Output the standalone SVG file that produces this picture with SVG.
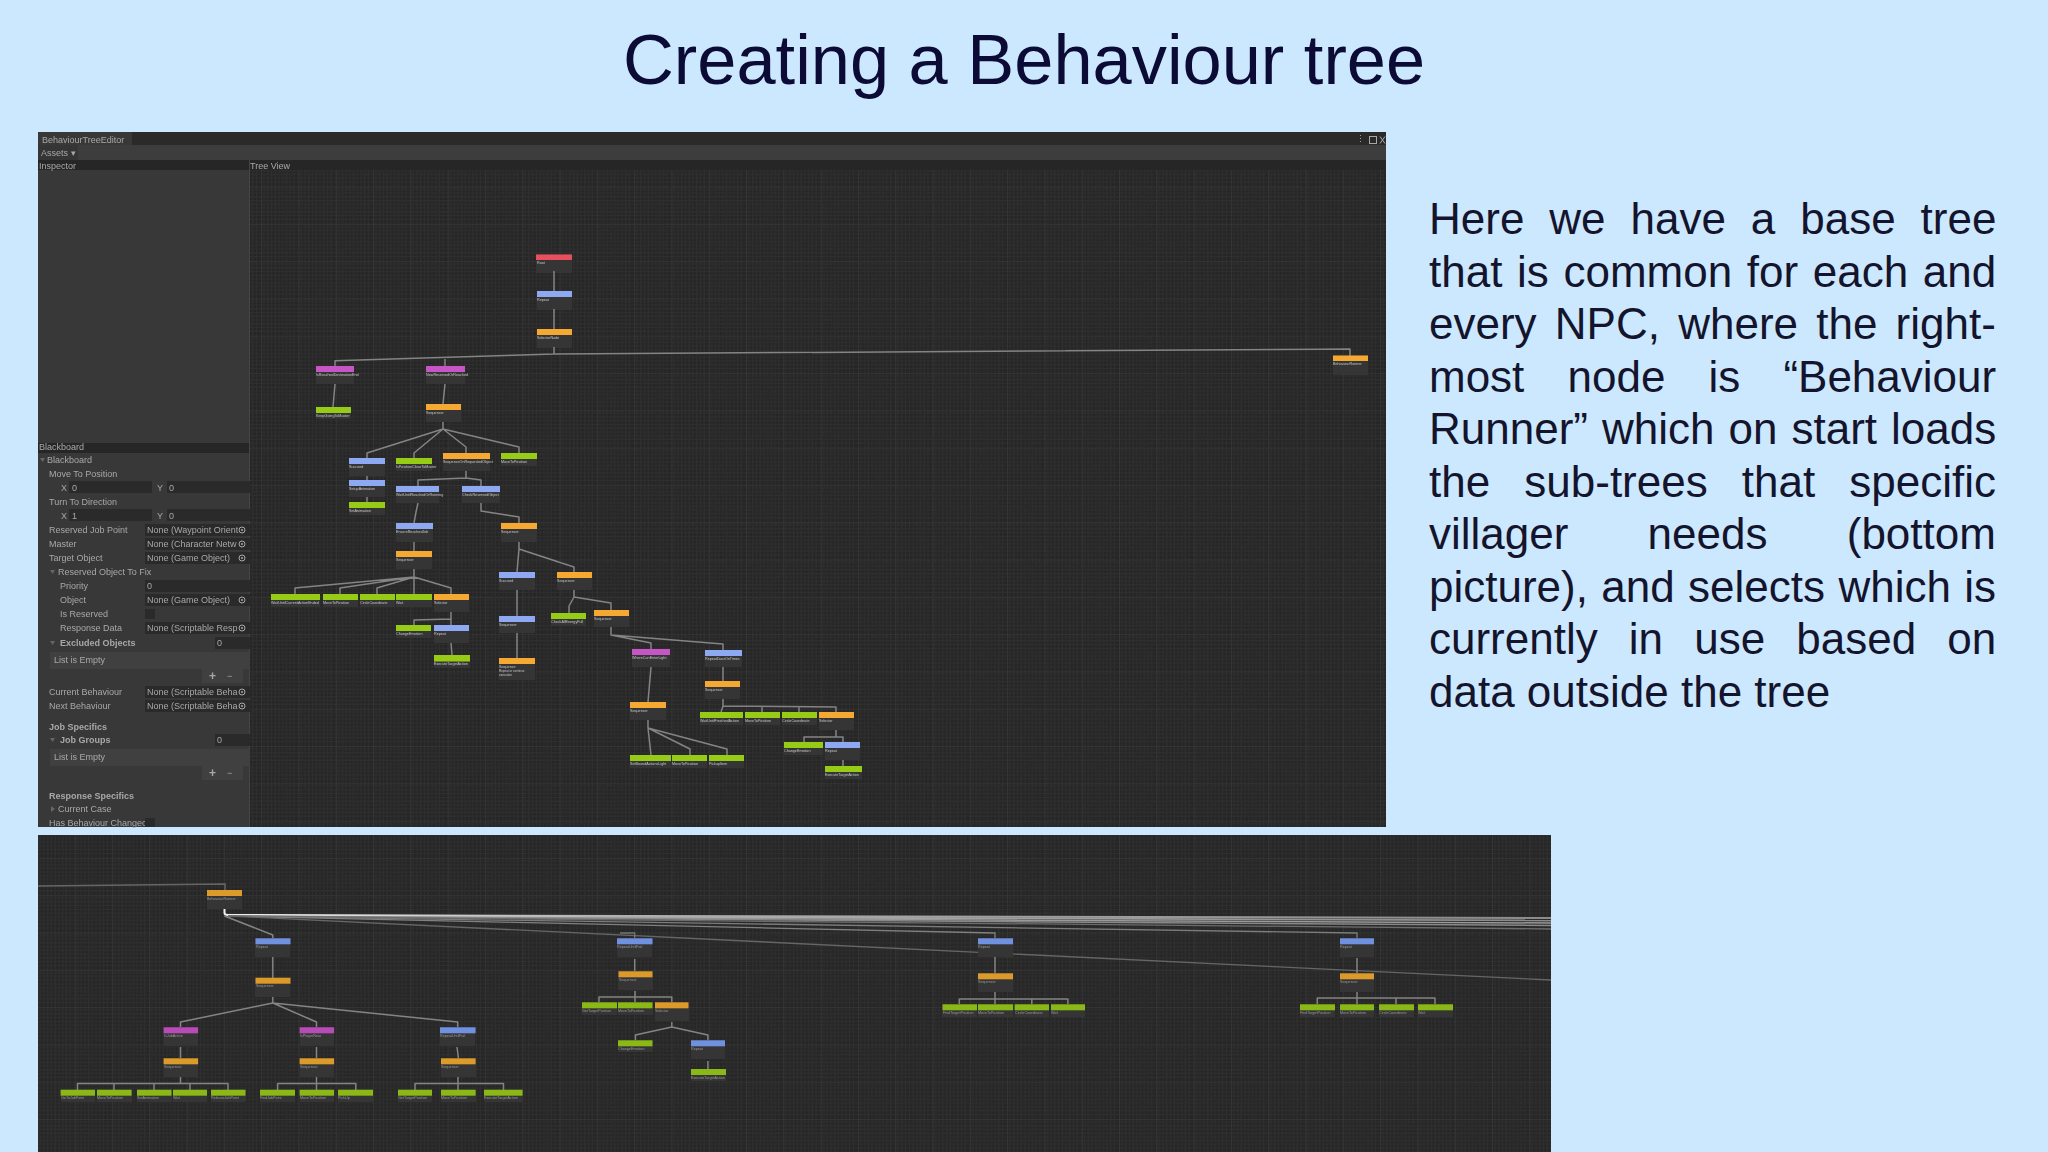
<svg xmlns="http://www.w3.org/2000/svg" width="2048" height="1152" viewBox="0 0 2048 1152">
<style>
.title{font:70.4px "Liberation Sans",Arial,sans-serif;fill:#0b0b35}
.body{font:44px "Liberation Sans",Arial,sans-serif;fill:#14142c}
.ui{font:9px "Liberation Sans",Arial,sans-serif;fill:#a8a8a8}
.uib{font:bold 9px "Liberation Sans",Arial,sans-serif;fill:#a8a8a8}
.lb{font:3.7px "Liberation Sans",Arial,sans-serif;fill:#c8c8c8}
.lb2{font:3.7px "Liberation Sans",Arial,sans-serif;fill:#9a9a9a}
.card{fill:#343434}
.o{fill:#f5a832}.b{fill:#8ea9f2}.p{fill:#c654c6}.g{fill:#97cc12}.r{fill:#e8505c}
.o2{fill:#dc9a2a}.b2{fill:#7090e0}.p2{fill:#b84cb8}.g2{fill:#8ab818}
.c{fill:none;stroke:#848484;stroke-width:1.500;stroke-linejoin:round}
.f{fill:#2a2a2a}
.ic{fill:none;stroke:#a8a8a8;stroke-width:1}
</style>
<defs>
<pattern id="gr" width="37.3" height="37.3" patternUnits="userSpaceOnUse">
<rect width="37.3" height="37.3" fill="#272727"/>
<path d="M3 0V37.3M6.700 0V37.3M10.400 0V37.3M14.200 0V37.3M17.900 0V37.3M21.600 0V37.3M25.300 0V37.3M29 0V37.3M32.800 0V37.3M0 3H37.3M0 6.700H37.3M0 10.400H37.3M0 14.200H37.3M0 17.900H37.3M0 21.600H37.3M0 25.300H37.3M0 29H37.3M0 32.800H37.3" stroke="#2f2f2f" stroke-width="1" fill="none"/>
<path d="M0 0V37.3M0 0H37.3" stroke="#3c3c3c" stroke-width="1.200" fill="none"/>
</pattern>
<filter id="sf" x="0" y="0" width="1" height="1"><feGaussianBlur stdDeviation="0.4"/></filter>
<linearGradient id="fd" x1="0" x2="1" y1="0" y2="0"><stop offset="0" stop-color="#f0f0f0"/><stop offset=".3" stop-color="#b0b0b0"/><stop offset="1" stop-color="#8a8a8a"/></linearGradient>
<g id="tgt"><circle class="ic" r="3"/><circle r="1" fill="#a8a8a8"/></g>
</defs>
<rect width="2048" height="1152" fill="#cce8ff"/>
<text class="title" x="623" y="84">Creating a Behaviour tree</text>
<g id="body-text">
<text class="body" x="1429" y="234" word-spacing="12.7">Here we have a base tree</text>
<text class="body" x="1429" y="286.500" word-spacing="2.4">that is common for each and</text>
<text class="body" x="1429" y="339" word-spacing="6">every NPC, where the right-</text>
<text class="body" x="1429" y="391.500" word-spacing="30.9">most node is “Behaviour</text>
<text class="body" x="1429" y="444" word-spacing="1.8">Runner” which on start loads</text>
<text class="body" x="1429" y="496.500" word-spacing="21.9">the sub-trees that specific</text>
<text class="body" x="1429" y="549" word-spacing="67">villager needs (bottom</text>
<text class="body" x="1429" y="601.500" word-spacing="1.15">picture), and selects which is</text>
<text class="body" x="1429" y="654" word-spacing="18.9">currently in use based on</text>
<text class="body" x="1429" y="706.500">data outside the tree</text>
</g>

<g id="editor-window" filter="url(#sf)">
<rect x="38" y="132" width="1348" height="695" fill="#2c2c2c"/>
<rect x="38" y="132" width="94" height="13" fill="#393939"/>
<rect x="38" y="145" width="1348" height="15" fill="#3c3c3c"/>
<rect x="38" y="145" width="40" height="15" fill="#353535"/>
<rect x="38" y="160" width="1348" height="10" fill="#272727"/>
<rect x="250" y="170" width="1136" height="657" fill="url(#gr)"/>
<rect x="38" y="170" width="212" height="657" fill="#383838"/>
<rect x="38" y="443" width="211" height="10" fill="#282828"/>
<rect x="249" y="160" width="1" height="667" fill="#444"/>
<text class="ui" x="42" y="143">BehaviourTreeEditor</text>
<text class="ui" x="41" y="156">Assets ▾</text>
<text class="ui" x="39" y="169">Inspector</text>
<text class="ui" x="250" y="169">Tree View</text>
<text class="ui" x="1356" y="142" font-weight="bold">⋮</text>
<rect x="1369.500" y="136.500" width="7" height="7" class="ic"/>
<path d="M1380 136.500l5 7M1385 136.500l-5 7" class="ic"/>

<g id="inspector">
<text class="ui" x="39" y="450">Blackboard</text>
<text class="ui" x="47" y="463">Blackboard</text>
<path d="M40 458h5l-2.500 4z" fill="#666"/>
<text class="ui" x="49" y="477">Move To Position</text>
<text class="ui" x="61" y="491">X</text><rect class="f" x="69" y="481" width="83" height="12"/><text class="ui" x="72" y="491">0</text>
<text class="ui" x="157" y="491">Y</text><rect class="f" x="167" y="481" width="83" height="12"/><text class="ui" x="169" y="491">0</text>
<text class="ui" x="49" y="505">Turn To Direction</text>
<text class="ui" x="61" y="519">X</text><rect class="f" x="69" y="509" width="83" height="12"/><text class="ui" x="72" y="519">1</text>
<text class="ui" x="157" y="519">Y</text><rect class="f" x="167" y="509" width="83" height="12"/><text class="ui" x="169" y="519">0</text>
<text class="ui" x="49" y="533">Reserved Job Point</text><rect class="f" x="145" y="524" width="105" height="12"/><text class="ui" x="147" y="533">None (Waypoint Orient</text><use href="#tgt" x="242" y="530"/>
<text class="ui" x="49" y="547">Master</text><rect class="f" x="145" y="538" width="105" height="12"/><text class="ui" x="147" y="547">None (Character Netw</text><use href="#tgt" x="242" y="544"/>
<text class="ui" x="49" y="561">Target Object</text><rect class="f" x="145" y="552" width="105" height="12"/><text class="ui" x="147" y="561">None (Game Object)</text><use href="#tgt" x="242" y="558"/>
<path d="M50 570h5l-2.500 4z" fill="#666"/><text class="ui" x="58" y="575">Reserved Object To Fix</text>
<text class="ui" x="60" y="589">Priority</text><rect class="f" x="145" y="580" width="105" height="12"/><text class="ui" x="147" y="589">0</text>
<text class="ui" x="60" y="603">Object</text><rect class="f" x="145" y="594" width="105" height="12"/><text class="ui" x="147" y="603">None (Game Object)</text><use href="#tgt" x="242" y="600"/>
<text class="ui" x="60" y="617">Is Reserved</text><rect class="f" x="145" y="609" width="10" height="10"/>
<text class="ui" x="60" y="631">Response Data</text><rect class="f" x="145" y="622" width="105" height="12"/><text class="ui" x="147" y="631">None (Scriptable Resp</text><use href="#tgt" x="242" y="628"/>
<path d="M50 641h5l-2.500 4z" fill="#666"/><text class="uib" x="60" y="646">Excluded Objects</text><rect class="f" x="215" y="637" width="35" height="12"/><text class="ui" x="217" y="646">0</text>
<rect x="50" y="652" width="200" height="17" fill="#414141"/><text class="ui" x="54" y="663">List is Empty</text>
<rect x="202" y="669" width="41" height="14" fill="#414141"/><text class="uib" x="209" y="680" style="font-size:12px">+</text><text class="ui" x="227" y="679" fill="#666">−</text>
<text class="ui" x="49" y="695">Current Behaviour</text><rect class="f" x="145" y="686" width="105" height="12"/><text class="ui" x="147" y="695">None (Scriptable Beha</text><use href="#tgt" x="242" y="692"/>
<text class="ui" x="49" y="709">Next Behaviour</text><rect class="f" x="145" y="700" width="105" height="12"/><text class="ui" x="147" y="709">None (Scriptable Beha</text><use href="#tgt" x="242" y="706"/>
<text class="uib" x="49" y="730">Job Specifics</text>
<path d="M50 738h5l-2.500 4z" fill="#666"/><text class="uib" x="60" y="743">Job Groups</text><rect class="f" x="215" y="734" width="35" height="12"/><text class="ui" x="217" y="743">0</text>
<rect x="50" y="749" width="200" height="17" fill="#414141"/><text class="ui" x="54" y="760">List is Empty</text>
<rect x="202" y="766" width="41" height="14" fill="#414141"/><text class="uib" x="209" y="777" style="font-size:12px">+</text><text class="ui" x="227" y="776" fill="#666">−</text>
<text class="uib" x="49" y="799">Response Specifics</text>
<path d="M51 806l4 3-4 3z" fill="#666"/><text class="ui" x="58" y="812">Current Case</text>
<text class="ui" x="49" y="826">Has Behaviour Changec</text><rect class="f" x="145" y="818" width="10" height="9"/>
</g>

<g id="tree-cards">
<rect class="card" x="536" y="254" width="36" height="19"/><rect class="card" x="537" y="291" width="35" height="19"/><rect class="card" x="537" y="329" width="35" height="19"/>
<rect class="card" x="316" y="366" width="38" height="18"/><rect class="card" x="426" y="366" width="39" height="18"/><rect class="card" x="316" y="407" width="35" height="12"/><rect class="card" x="426" y="404" width="35" height="18"/>
<rect class="card" x="349" y="458" width="36" height="18"/><rect class="card" x="396" y="458" width="36" height="13"/><rect class="card" x="443" y="453" width="47" height="18"/><rect class="card" x="501" y="453" width="36" height="13"/>
<rect class="card" x="349" y="480" width="36" height="17"/><rect class="card" x="349" y="502" width="36" height="13"/><rect class="card" x="396" y="486" width="43" height="17"/><rect class="card" x="462" y="486" width="38" height="17"/>
<rect class="card" x="396" y="523" width="37" height="19"/><rect class="card" x="501" y="523" width="36" height="19"/><rect class="card" x="396" y="551" width="36" height="18"/>
<rect class="card" x="271" y="594" width="49" height="13"/><rect class="card" x="323" y="594" width="35" height="13"/><rect class="card" x="360" y="594" width="35" height="13"/><rect class="card" x="396" y="594" width="36" height="13"/><rect class="card" x="434" y="594" width="35" height="18"/>
<rect class="card" x="396" y="625" width="35" height="13"/><rect class="card" x="434" y="625" width="35" height="18"/><rect class="card" x="434" y="655" width="36" height="13"/>
<rect class="card" x="499" y="572" width="36" height="18"/><rect class="card" x="557" y="572" width="35" height="18"/><rect class="card" x="499" y="616" width="36" height="17"/><rect class="card" x="499" y="658" width="36" height="22"/>
<rect class="card" x="551" y="613" width="35" height="13"/><rect class="card" x="594" y="610" width="35" height="17"/><rect class="card" x="632" y="649" width="38" height="18"/><rect class="card" x="705" y="650" width="37" height="17"/><rect class="card" x="705" y="681" width="35" height="18"/><rect class="card" x="630" y="702" width="36" height="18"/>
<rect class="card" x="630" y="755" width="41" height="13"/><rect class="card" x="672" y="755" width="35" height="13"/><rect class="card" x="709" y="755" width="35" height="13"/>
<rect class="card" x="700" y="712" width="43" height="13"/><rect class="card" x="745" y="712" width="35" height="13"/><rect class="card" x="782" y="712" width="35" height="13"/><rect class="card" x="819" y="712" width="35" height="18"/>
<rect class="card" x="784" y="742" width="39" height="13"/><rect class="card" x="825" y="742" width="35" height="18"/><rect class="card" x="825" y="766" width="37" height="13"/><rect class="card" x="1333" y="355" width="35" height="20"/>
</g>

<g id="connectors-top">
<path class="c" d="M554 271V291M554 309V329M554 347V354L335 360.700V366M445 359V366M554 354L1350 349V356"/>
<path class="c" d="M335 384L333 407M445 384L443 404"/>
<path class="c" d="M443 422V429L367 453V458M443 429L414 453V458M443 429L466 447V453M443 429L519 447V453"/>
<path class="c" d="M367 476V480M367 497V502M466 471V478L418 480V486M466 478L481 480V486"/>
<path class="c" d="M418 503L416 512L414 523M481 503V511L519 517V523M414 542V551"/>
<path class="c" d="M414 569V577L295 588V594M414 577L340 588V594M414 577L377 588V594M414 577V594M414 577L451 588V594"/>
<path class="c" d="M451 612V619L414 620V625M451 619V625M451 643L452 655"/>
<path class="c" d="M519 542V549L517 572M519 549L574 567V572M517 590V616M517 633V658"/>
<path class="c" d="M574 590V597L569 606V613M574 597L611 603V610M611 627V635L651 643V649M611 635L723 644V650"/>
<path class="c" d="M651 667L648 702M723 667V681M723 699V706L721 712M723 706L836 707V712M762 707V712M799 707V712"/>
<path class="c" d="M648 720V728L651 755M648 728L690 749V755M648 728L727 749V755"/>
<path class="c" d="M836 730V737L804 737V742M836 737L843 737V742M843 760V766"/>
</g>

<g id="node-root"><rect class="r" x="536" y="254.500" width="36" height="5.500"/><text class="lb" x="537" y="264">Root</text></g>
<g id="node-repeat"><rect class="b" x="537" y="291" width="35" height="6"/><text class="lb" x="537" y="301">Repeat</text></g>
<g id="node-selector"><rect class="o" x="537" y="329" width="35" height="6"/><text class="lb" x="537" y="339">SelectorNode</text></g>
<g id="node-a1"><rect class="p" x="316" y="366" width="38" height="6"/><text class="lb" x="316" y="376">IsReachedDestinationEnd</text></g>
<g id="node-a2"><rect class="g" x="316" y="407" width="35" height="6"/><text class="lb" x="316" y="417">KeepGoingToMaster</text></g>
<g id="node-b1"><rect class="p" x="426" y="366" width="39" height="6"/><text class="lb" x="426" y="376">NewReservedOrReached</text></g>
<g id="node-b2"><rect class="o" x="426" y="404" width="35" height="6"/><text class="lb" x="426" y="414">Sequencer</text></g>
<g id="node-c1"><rect class="b" x="349" y="458" width="36" height="6"/><text class="lb" x="349" y="468">Succeed</text></g>
<g id="node-c2"><rect class="g" x="396" y="458" width="36" height="6"/><text class="lb" x="396" y="468">IsPositionCloseToMaster</text></g>
<g id="node-c3"><rect class="o" x="443" y="453" width="47" height="6"/><text class="lb" x="443" y="463">SequenceOnRequestedObject</text></g>
<g id="node-c4"><rect class="g" x="501" y="453" width="36" height="6"/><text class="lb" x="501" y="463">MoveToPosition</text></g>
<g id="node-d1"><rect class="b" x="349" y="480" width="36" height="6"/><text class="lb" x="349" y="490">SetupAnimation</text></g>
<g id="node-d2"><rect class="g" x="349" y="502" width="36" height="6"/><text class="lb" x="349" y="512">SetAnimation</text></g>
<g id="node-e1"><rect class="b" x="396" y="486" width="43" height="6"/><text class="lb" x="396" y="496">WaitUntilReachedOrRunning</text></g>
<g id="node-e2"><rect class="b" x="462" y="486" width="38" height="6"/><text class="lb" x="462" y="496">CheckReservedObject</text></g>
<g id="node-e3"><rect class="b" x="396" y="523" width="37" height="6"/><text class="lb" x="396" y="533">EnsureReachedJob</text></g>
<g id="node-e4"><rect class="o" x="501" y="523" width="36" height="6"/><text class="lb" x="501" y="533">Sequencer</text></g>
<g id="node-f1"><rect class="o" x="396" y="551" width="36" height="6"/><text class="lb" x="396" y="561">Sequencer</text></g>
<g id="node-f2"><rect class="g" x="271" y="594" width="49" height="6"/><text class="lb" x="271" y="604">WaitUntilCurrentActionEnded</text></g>
<g id="node-f3"><rect class="g" x="323" y="594" width="35" height="6"/><text class="lb" x="323" y="604">MoveToPosition</text></g>
<g id="node-f4"><rect class="g" x="360" y="594" width="35" height="6"/><text class="lb" x="360" y="604">CircleCoordinate</text></g>
<g id="node-f5"><rect class="g" x="396" y="594" width="36" height="6"/><text class="lb" x="396" y="604">Wait</text></g>
<g id="node-f6"><rect class="o" x="434" y="594" width="35" height="6"/><text class="lb" x="434" y="604">Selector</text></g>
<g id="node-g1"><rect class="g" x="396" y="625" width="35" height="6"/><text class="lb" x="396" y="635">ChangeEmotion</text></g>
<g id="node-g2"><rect class="b" x="434" y="625" width="35" height="6"/><text class="lb" x="434" y="635">Repeat</text></g>
<g id="node-g3"><rect class="g" x="434" y="655" width="36" height="6.500"/><text class="lb" x="434" y="665">ExecuteTargetAction</text></g>
<g id="node-h1"><rect class="b" x="499" y="572" width="36" height="6"/><text class="lb" x="499" y="582">Succeed</text></g>
<g id="node-h2"><rect class="o" x="557" y="572" width="35" height="6"/><text class="lb" x="557" y="582">Sequencer</text></g>
<g id="node-h3"><rect class="b" x="499" y="616" width="36" height="6"/><text class="lb" x="499" y="626">Sequencer</text></g>
<g id="node-h4"><rect class="o" x="499" y="658" width="36" height="6"/><text class="lb" x="499" y="668">Sequence</text><text class="lb" x="499" y="672" style="font-size:3px">Repeat or continue</text><text class="lb" x="499" y="676" style="font-size:3px">execution</text></g>
<g id="node-i1"><rect class="g" x="551" y="613" width="35" height="6"/><text class="lb" x="551" y="623">CheckAllEnergyFull</text></g>
<g id="node-i2"><rect class="o" x="594" y="610" width="35" height="6"/><text class="lb" x="594" y="620">Sequencer</text></g>
<g id="node-j1"><rect class="p" x="632" y="649" width="38" height="6"/><text class="lb" x="632" y="659">WhereCanEnterLight</text></g>
<g id="node-j2"><rect class="b" x="705" y="650" width="37" height="6"/><text class="lb" x="705" y="660">RepeatDoorOnTimes</text></g>
<g id="node-j3"><rect class="o" x="705" y="681" width="35" height="6"/><text class="lb" x="705" y="691">Sequencer</text></g>
<g id="node-j4"><rect class="o" x="630" y="702" width="36" height="6"/><text class="lb" x="630" y="712">Sequencer</text></g>
<g id="node-k1"><rect class="g" x="630" y="755" width="41" height="6"/><text class="lb" x="630" y="765">SetBoundActionsLight</text></g>
<g id="node-k2"><rect class="g" x="672" y="755" width="35" height="6"/><text class="lb" x="672" y="765">MoveToPosition</text></g>
<g id="node-k3"><rect class="g" x="709" y="755" width="35" height="6"/><text class="lb" x="709" y="765">PickupItem</text></g>
<g id="node-l1"><rect class="g" x="700" y="712" width="43" height="6"/><text class="lb" x="700" y="722">WaitUntilFinishedAction</text></g>
<g id="node-l2"><rect class="g" x="745" y="712" width="35" height="6"/><text class="lb" x="745" y="722">MoveToPosition</text></g>
<g id="node-l3"><rect class="g" x="782" y="712" width="35" height="6"/><text class="lb" x="782" y="722">CircleCoordinate</text></g>
<g id="node-l4"><rect class="o" x="819" y="712" width="35" height="6"/><text class="lb" x="819" y="722">Selector</text></g>
<g id="node-m1"><rect class="g" x="784" y="742" width="39" height="6"/><text class="lb" x="784" y="752">ChangeEmotion</text></g>
<g id="node-m2"><rect class="b" x="825" y="742" width="35" height="6"/><text class="lb" x="825" y="752">Repeat</text></g>
<g id="node-m3"><rect class="g" x="825" y="766" width="37" height="6"/><text class="lb" x="825" y="776">ExecuteTargetAction</text></g>
<g id="node-runner"><rect class="o" x="1333" y="355.500" width="35" height="5.500"/><text class="lb" x="1333" y="365">BehaviourRunner</text></g>
</g>

<g id="subtree-window" filter="url(#sf)">
<rect x="38" y="835" width="1513" height="317" fill="url(#gr)"/>
<g id="connectors-bundle" fill="none">
<path d="M38 886L225 884V890" stroke="#666" stroke-width="1.500"/>
<path d="M224.500 909V913Q224.500 915 228 915L1551 918" stroke="url(#fd)" stroke-width="2"/>
<path d="M228 915.500L1551 920.500" stroke="url(#fd)" stroke-width="1.800"/>
<path d="M228 916L1551 923" stroke="#9a9a9a" stroke-width="1.500"/>
<path d="M228 916L1551 925.500" stroke="#888" stroke-width="1.500"/>
<path d="M228 916L1357 933V938" stroke="#7c7c7c" stroke-width="1.300"/>
<path d="M228 916L1551 929" stroke="#6c6c6c" stroke-width="1.300"/>
<path d="M228 916L995 933V938" stroke="#808080" stroke-width="1.300"/>
<path d="M228 916L1551 980" stroke="#666" stroke-width="1.300"/>
<path d="M620 933H634.700V938" stroke="#777" stroke-width="1.300"/>
</g>
<g id="sub-cards">
<rect class="card" x="207" y="890" width="35" height="19"/><rect class="card" x="255" y="938" width="35" height="19"/><rect class="card" x="255" y="978" width="35" height="19"/>
<rect class="card" x="164" y="1027" width="34" height="19"/><rect class="card" x="300" y="1027" width="34" height="19"/><rect class="card" x="440" y="1027" width="35" height="19"/>
<rect class="card" x="164" y="1058" width="34" height="19"/><rect class="card" x="300" y="1058" width="34" height="19"/><rect class="card" x="441" y="1058" width="35" height="19"/>
<rect class="card" x="61" y="1090" width="34" height="12"/><rect class="card" x="97" y="1090" width="35" height="12"/><rect class="card" x="137" y="1090" width="35" height="12"/><rect class="card" x="173" y="1090" width="34" height="12"/><rect class="card" x="211" y="1090" width="35" height="12"/>
<rect class="card" x="260" y="1090" width="35" height="12"/><rect class="card" x="300" y="1090" width="34" height="12"/><rect class="card" x="338" y="1090" width="35" height="12"/><rect class="card" x="398" y="1090" width="34" height="12"/><rect class="card" x="441" y="1090" width="35" height="12"/><rect class="card" x="484" y="1090" width="39" height="12"/>
<rect class="card" x="617" y="938" width="35" height="19"/><rect class="card" x="618" y="971" width="35" height="19"/><rect class="card" x="582" y="1002" width="35" height="13"/><rect class="card" x="618" y="1002" width="35" height="13"/><rect class="card" x="655" y="1002" width="34" height="19"/>
<rect class="card" x="618" y="1040" width="35" height="12"/><rect class="card" x="691" y="1040" width="34" height="19"/><rect class="card" x="691" y="1069" width="35" height="12"/>
<rect class="card" x="978" y="938" width="35" height="19"/><rect class="card" x="978" y="973" width="35" height="19"/><rect class="card" x="942" y="1004" width="35" height="13"/><rect class="card" x="978" y="1004" width="35" height="13"/><rect class="card" x="1015" y="1004" width="34" height="13"/><rect class="card" x="1051" y="1004" width="34" height="13"/>
<rect class="card" x="1340" y="938" width="34" height="19"/><rect class="card" x="1340" y="973" width="34" height="19"/><rect class="card" x="1300" y="1004" width="35" height="13"/><rect class="card" x="1340" y="1004" width="34" height="13"/><rect class="card" x="1379" y="1004" width="35" height="13"/><rect class="card" x="1418" y="1004" width="35" height="13"/>
</g>
<g id="connectors-sub">
<path class="c" d="M224.500 916L272.800 935V938M272.800 957V978M272.800 997V1003L180.500 1022V1027M272.800 1003L316.500 1022V1027M272.800 1003L457.700 1022V1027"/>
<path class="c" d="M180.500 1047V1058M316.500 1047V1058M457 1047L458.400 1058"/>
<path class="c" d="M180.500 1077V1083.500M77.500 1090V1083.500H228V1090M114 1083.500V1090M154 1083.500V1090M190 1083.500V1090"/>
<path class="c" d="M316.500 1077V1090M277.600 1090V1083.500H355.800V1090M458 1077V1090M415 1090V1083.500H503.500V1090"/>
<path class="c" d="M634.700 959V971M635 991V1002M599 1002V997H671.800V1002M671.800 1022V1027L635.400 1035V1040M671.800 1027L707.900 1035V1040M707.900 1061V1069"/>
<path class="c" d="M995 957V973M995 992V1004M959.300 1004V999H1067.900V1004M1031.800 999V1004"/>
<path class="c" d="M1357 958V973M1357 992V1004M1317.300 1004V998H1435V1004M1396 998V1004"/>
</g>
<g id="sub-root"><rect class="o2" x="207" y="890" width="35" height="6"/><text class="lb2" x="207" y="900">BehaviourRunner</text></g>
<g id="sub-b1"><rect class="b2" x="255.500" y="938.300" width="35" height="6"/><text class="lb2" x="256" y="948">Repeat</text></g>
<g id="sub-o1"><rect class="o2" x="255.500" y="977.700" width="35" height="6"/><text class="lb2" x="256" y="987">Sequencer</text></g>
<g id="sub-p1"><rect class="p2" x="163.600" y="1027.300" width="34.500" height="6"/><text class="lb2" x="164" y="1037">IsJobActive</text></g>
<g id="sub-p2"><rect class="p2" x="299.600" y="1027.300" width="34.500" height="6"/><text class="lb2" x="300" y="1037">IsPlayerNear</text></g>
<g id="sub-b2"><rect class="b2" x="440" y="1027.300" width="35.600" height="6"/><text class="lb2" x="440" y="1037">RepeatUntilFail</text></g>
<g id="sub-o2"><rect class="o2" x="163.600" y="1058.300" width="34.500" height="6"/><text class="lb2" x="164" y="1068">Sequencer</text></g>
<g id="sub-o3"><rect class="o2" x="299.600" y="1058.300" width="34.500" height="6"/><text class="lb2" x="300" y="1068">Sequencer</text></g>
<g id="sub-o4"><rect class="o2" x="441" y="1058.300" width="34.600" height="6"/><text class="lb2" x="441" y="1068">Sequencer</text></g>
<g id="sub-g1"><rect class="g2" x="60.600" y="1089.700" width="34.400" height="6"/><text class="lb2" x="61" y="1099">GoToJobPoint</text></g>
<g id="sub-g2"><rect class="g2" x="97" y="1089.700" width="34.600" height="6"/><text class="lb2" x="97" y="1099">MoveToPosition</text></g>
<g id="sub-g3"><rect class="g2" x="137" y="1089.700" width="34.500" height="6"/><text class="lb2" x="137" y="1099">SetAnimation</text></g>
<g id="sub-g4"><rect class="g2" x="173" y="1089.700" width="34" height="6"/><text class="lb2" x="173" y="1099">Wait</text></g>
<g id="sub-g5"><rect class="g2" x="211" y="1089.700" width="34.500" height="6"/><text class="lb2" x="211" y="1099">ReleaseJobPoint</text></g>
<g id="sub-g6"><rect class="g2" x="260" y="1089.700" width="35" height="6"/><text class="lb2" x="260" y="1099">FindJobPoint</text></g>
<g id="sub-g7"><rect class="g2" x="299.600" y="1089.700" width="34.500" height="6"/><text class="lb2" x="300" y="1099">MoveToPosition</text></g>
<g id="sub-g8"><rect class="g2" x="338" y="1089.700" width="35" height="6"/><text class="lb2" x="338" y="1099">PickUp</text></g>
<g id="sub-g9"><rect class="g2" x="398" y="1089.700" width="34" height="6"/><text class="lb2" x="398" y="1099">GetTargetPosition</text></g>
<g id="sub-g10"><rect class="g2" x="441" y="1089.700" width="34.600" height="6"/><text class="lb2" x="441" y="1099">MoveToPosition</text></g>
<g id="sub-g11"><rect class="g2" x="484" y="1089.700" width="38.600" height="6"/><text class="lb2" x="484" y="1099">ExecuteTargetAction</text></g>
<g id="sub-b3"><rect class="b2" x="617" y="938.300" width="35.500" height="6"/><text class="lb2" x="617" y="948">RepeatUntilFail</text></g>
<g id="sub-o5"><rect class="o2" x="618.500" y="971.300" width="34" height="6"/><text class="lb2" x="619" y="981">Sequencer</text></g>
<g id="sub-g12"><rect class="g2" x="582" y="1002.300" width="35" height="6"/><text class="lb2" x="582" y="1012">GetTargetPosition</text></g>
<g id="sub-g13"><rect class="g2" x="618" y="1002.300" width="34.500" height="6"/><text class="lb2" x="618" y="1012">MoveToPosition</text></g>
<g id="sub-o6"><rect class="o2" x="655" y="1002.300" width="33.500" height="6"/><text class="lb2" x="655" y="1012">Selector</text></g>
<g id="sub-g14"><rect class="g2" x="618" y="1040.300" width="34.500" height="6"/><text class="lb2" x="618" y="1050">ChangeEmotion</text></g>
<g id="sub-b4"><rect class="b2" x="691" y="1040.300" width="34" height="6"/><text class="lb2" x="691" y="1050">Repeat</text></g>
<g id="sub-g15"><rect class="g2" x="691" y="1069" width="35" height="6"/><text class="lb2" x="691" y="1079">ExecuteTargetAction</text></g>
<g id="sub-b5"><rect class="b2" x="978" y="938.300" width="35" height="6"/><text class="lb2" x="978" y="948">Repeat</text></g>
<g id="sub-o7"><rect class="o2" x="978" y="973.300" width="35" height="6"/><text class="lb2" x="978" y="983">Sequencer</text></g>
<g id="sub-g16"><rect class="g2" x="942.500" y="1004.300" width="34.500" height="6"/><text class="lb2" x="943" y="1014">FindTargetPosition</text></g>
<g id="sub-g17"><rect class="g2" x="978" y="1004.300" width="35" height="6"/><text class="lb2" x="978" y="1014">MoveToPosition</text></g>
<g id="sub-g18"><rect class="g2" x="1014.600" y="1004.300" width="34.400" height="6"/><text class="lb2" x="1015" y="1014">CircleCoordinate</text></g>
<g id="sub-g19"><rect class="g2" x="1051" y="1004.300" width="34" height="6"/><text class="lb2" x="1051" y="1014">Wait</text></g>
<g id="sub-b6"><rect class="b2" x="1340" y="938.300" width="34" height="6"/><text class="lb2" x="1340" y="948">Repeat</text></g>
<g id="sub-o8"><rect class="o2" x="1340" y="973.300" width="34" height="6"/><text class="lb2" x="1340" y="983">Sequencer</text></g>
<g id="sub-g20"><rect class="g2" x="1300" y="1004.300" width="35" height="6"/><text class="lb2" x="1300" y="1014">FindTargetPosition</text></g>
<g id="sub-g21"><rect class="g2" x="1340" y="1004.300" width="34" height="6"/><text class="lb2" x="1340" y="1014">MoveToPosition</text></g>
<g id="sub-g22"><rect class="g2" x="1379" y="1004.300" width="35" height="6"/><text class="lb2" x="1379" y="1014">CircleCoordinate</text></g>
<g id="sub-g23"><rect class="g2" x="1418" y="1004.300" width="35" height="6"/><text class="lb2" x="1418" y="1014">Wait</text></g>
</g>
</svg>
